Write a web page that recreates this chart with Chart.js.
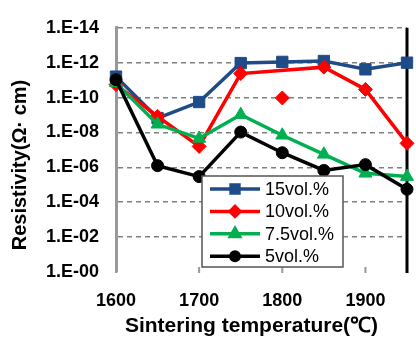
<!DOCTYPE html>
<html><head><meta charset="utf-8">
<script src="https://cdn.jsdelivr.net/npm/chart.js@4/dist/chart.umd.min.js"></script>
<style>html,body{margin:0;padding:0;background:#fff;}#wrap{width:416px;height:338px;position:relative;}</style>
</head><body><div id="wrap"><canvas id="c" width="416" height="338"></canvas></div>
<script>
const temps = [1600, 1650, 1700, 1750, 1800, 1850, 1900, 1950];
const xTickValues = [1600, 1700, 1800, 1900];
const vol15 = [6.3e-12, 1.5e-9, 1.8e-10, 1.05e-12, 9e-13, 8e-13, 2.4e-12, 1e-12];
const vol10 = [1.8e-11, 1.2e-9, 6.3e-8, 4.2e-12, null, 1.8e-12, 3.4e-11, 4.2e-8];
const vol10Extra = [null, null, null, null, 1.05e-10, null, null, null];
const vol75 = [1.45e-11, 3.4e-9, 2.2e-8, 9.5e-10, 1.45e-8, 1.8e-7, 2.2e-6, 3.4e-6];
const vol5 = [9.5e-12, 8e-7, 3.4e-6, 9.5e-9, 1.45e-7, 1.5e-6, 7e-7, 1.8e-5];
const seriesNames = ['15vol.%', '10vol.%', '7.5vol.%', '5vol.%'];
const yTickValues = [1e-14, 1e-12, 1e-10, 1e-8, 1e-6, 1e-4, 1e-2, 1];
const yTickLabels = ['1.E-14', '1.E-12', '1.E-10', '1.E-08', '1.E-06', '1.E-04', '1.E-02', '1.E-00'];
const xTitle = 'Sintering temperature(℃)';
const yTitle = 'Resistivity(Ω· cm)';

const pts = arr => temps.map((t, i) => ({x: t, y: arr[i]}));
const BLUE = '#1F4B87', RED = '#FF0000', GREEN = '#00B050', BLACK = '#000000';

function ds(label, arr, color, style, r, extra) {
  return Object.assign({
    label, data: pts(arr), borderColor: color, backgroundColor: color,
    borderWidth: 3.5, pointStyle: style, pointRadius: r, pointBorderWidth: 1,
    pointBackgroundColor: color, pointBorderColor: color, spanGaps: true, clip: false, tension: 0
  }, extra || {});
}

const datasets = [
  ds(seriesNames[3], vol5, BLACK, 'circle', 6),
  ds(seriesNames[2], vol75, GREEN, 'triangle', 7.5),
  ds(seriesNames[1], vol10, RED, 'rectRot', 7),
  ds(seriesNames[1] + ' extra', vol10Extra, RED, 'rectRot', 7, {showLine: false}),
  ds(seriesNames[0], vol15, BLUE, 'rect', 8)
];

const decor = {
  id: 'decor',
  beforeDatasetsDraw(chart) {
    const {ctx, chartArea: a, scales} = chart;
    ctx.save();
    ctx.strokeStyle = '#999'; ctx.lineWidth = 2;
    xTickValues.forEach(v => {
      const x = scales.x.getPixelForValue(v);
      ctx.beginPath(); ctx.moveTo(x, a.bottom + 1); ctx.lineTo(x, a.bottom - 5); ctx.stroke();
    });
    ctx.strokeStyle = '#000'; ctx.lineWidth = 3;
    ctx.beginPath(); ctx.moveTo(a.right, a.top); ctx.lineTo(a.right, a.bottom + 1); ctx.stroke();
    ctx.restore();
  },
  afterDraw(chart) {
    const {ctx} = chart;
    ctx.save();
    ctx.fillStyle = '#000';
    ctx.textAlign = 'center'; ctx.textBaseline = 'middle';
    ctx.font = 'bold 21px "Liberation Sans", Arial, sans-serif';
    ctx.fillText(xTitle, 251.5, 326);
    ctx.font = 'bold 20px "Liberation Sans", Arial, sans-serif';
    ctx.translate(20.5, 165); ctx.rotate(-Math.PI / 2);
    ctx.fillText(yTitle, 0, 0);
    ctx.restore();

    ctx.save();
    const bx = 202, by = 176, bw = 141, bh = 91;
    ctx.fillStyle = '#fff'; ctx.fillRect(bx, by, bw, bh);
    ctx.strokeStyle = '#555'; ctx.lineWidth = 1.5; ctx.strokeRect(bx, by, bw, bh);
    const order = [4, 2, 1, 0];
    order.forEach((di, i) => {
      const d = chart.data.datasets[di];
      const y = 189 + i * 22.4;
      ctx.strokeStyle = d.borderColor; ctx.lineWidth = 3.5;
      ctx.beginPath(); ctx.moveTo(210, y); ctx.lineTo(260, y); ctx.stroke();
      ctx.fillStyle = d.borderColor;
      Chart.helpers.drawPoint(ctx, {pointStyle: d.pointStyle, radius: d.pointRadius * 0.7, borderWidth: 1}, 235, y);
      ctx.fillStyle = '#000';
      ctx.font = '18px "Liberation Sans", Arial, sans-serif';
      ctx.textAlign = 'left'; ctx.textBaseline = 'middle';
      ctx.fillText(d.label, 265, y + 1);
    });
    ctx.restore();
  }
};

new Chart(document.getElementById('c'), {
  type: 'line',
  data: {datasets},
  plugins: [decor],
  options: {
    responsive: false, animation: false, devicePixelRatio: 1,
    layout: {padding: {top: 17, right: 9, left: 0, bottom: 0}},
    plugins: {legend: {display: false}, tooltip: {enabled: false}},
    scales: {
      x: {
        type: 'linear', min: 1600, max: 1950,
        afterBuildTicks: s => { s.ticks = xTickValues.map(v => ({value: v})); },
        afterFit: s => { s.height = 66; },
        grid: {display: false, drawTicks: false},
        border: {display: false},
        ticks: {padding: 18, color: '#000', font: {family: '"Liberation Sans", Arial, sans-serif', size: 18, weight: 'bold'}, maxRotation: 0,
          callback: v => String(v)}
      },
      y: {
        type: 'logarithmic', reverse: true, min: 1e-14, max: 1,
        afterBuildTicks: s => { s.ticks = yTickValues.map(v => ({value: v})); },
        afterFit: s => { s.width = 116; },
        grid: {
          drawTicks: false, lineWidth: 1.5,
          color: c => (c.tick && c.tick.value === 1) ? 'rgba(0,0,0,0)' : '#808080'
        },
        border: {display: true, color: '#999', width: 3, dash: [5, 4]},
        ticks: {
          padding: 17, color: '#000',
          font: {family: '"Liberation Sans", Arial, sans-serif', size: 18, weight: 'bold'},
          callback: (v, i) => yTickLabels[i]
        }
      }
    }
  }
});
</script></body></html>
